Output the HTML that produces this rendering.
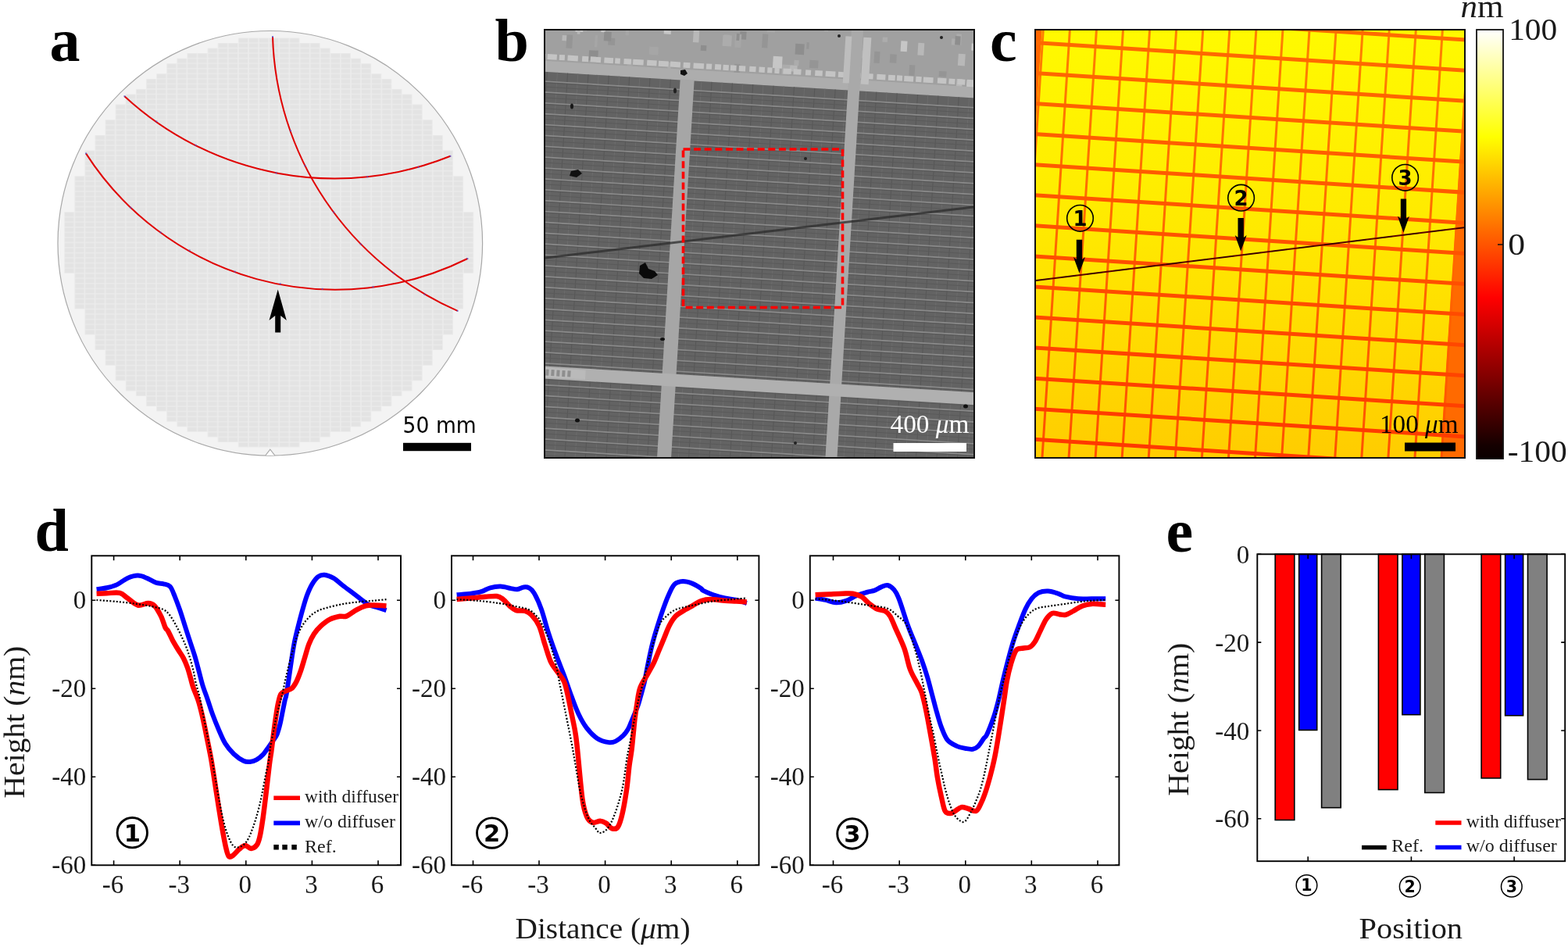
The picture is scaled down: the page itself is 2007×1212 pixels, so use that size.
<!DOCTYPE html><html><head><meta charset="utf-8"><title>Figure</title><style>html,body{margin:0;padding:0;background:#fff;width:2007px;height:1212px;overflow:hidden}svg{display:block}</style></head><body><svg width="2007" height="1212" viewBox="0 0 2007 1212"><rect width="2007" height="1212" fill="#fff"/><circle cx="345.8" cy="311.3" r="271.8" fill="#f3f3f3" stroke="#a8a8a8" stroke-width="1.2"/><path d="M339.8,582.8000000000001 L345.8,575.1 L351.8,582.8000000000001" fill="#ffffff" stroke="#a8a8a8" stroke-width="1.1"/><defs><pattern id="die" patternUnits="userSpaceOnUse" x="95.3" y="297.4" width="13.1" height="6.55"><rect width="13.1" height="6.55" fill="#ececec"/><rect x="0.8" y="0.6" width="11.5" height="5.3" fill="#e3e3e3"/></pattern></defs><path d="M304.9,48.5H383.5V55H304.9ZM278.7,55H409.7V61.6H278.7ZM265.6,61.6H422.8V68.1H265.6ZM239.4,68.1H449V74.7H239.4ZM226.3,74.7H462.1V81.2H226.3ZM213.2,81.2H475.2V87.8H213.2ZM213.2,87.8H475.2V94.3H213.2ZM200.1,94.3H488.3V100.9H200.1ZM187,100.9H501.4V107.4H187ZM187,107.4H501.4V114H187ZM173.9,114H514.5V120.5H173.9ZM160.8,120.5H527.6V127.1H160.8ZM160.8,127.1H527.6V133.7H160.8ZM147.7,133.6H540.7V140.2H147.7ZM147.7,140.2H540.7V146.8H147.7ZM147.7,146.7H540.7V153.3H147.7ZM134.6,153.3H553.8V159.8H134.6ZM134.6,159.8H553.8V166.4H134.6ZM134.6,166.4H553.8V172.9H134.6ZM121.5,172.9H566.9V179.5H121.5ZM121.5,179.5H566.9V186.1H121.5ZM121.5,186H566.9V192.6H121.5ZM108.4,192.6H580V199.1H108.4ZM108.4,199.1H580V205.7H108.4ZM108.4,205.7H580V212.2H108.4ZM108.4,212.2H580V218.8H108.4ZM108.4,218.8H580V225.3H108.4ZM95.3,225.3H593.1V231.9H95.3ZM95.3,231.9H593.1V238.4H95.3ZM95.3,238.4H593.1V245H95.3ZM95.3,245H593.1V251.5H95.3ZM95.3,251.5H593.1V258.1H95.3ZM95.3,258.1H593.1V264.6H95.3ZM95.3,264.6H593.1V271.2H95.3ZM82.2,271.2H606.2V277.8H82.2ZM82.2,277.8H606.2V284.3H82.2ZM82.2,284.3H606.2V290.8H82.2ZM82.2,290.8H606.2V297.4H82.2ZM82.2,297.4H606.2V303.9H82.2ZM82.2,303.9H606.2V310.5H82.2ZM82.2,310.5H606.2V317.1H82.2ZM82.2,317H606.2V323.6H82.2ZM82.2,323.6H606.2V330.1H82.2ZM82.2,330.1H606.2V336.7H82.2ZM82.2,336.7H606.2V343.2H82.2ZM82.2,343.2H606.2V349.8H82.2ZM95.3,349.8H593.1V356.3H95.3ZM95.3,356.3H593.1V362.9H95.3ZM95.3,362.9H593.1V369.4H95.3ZM95.3,369.4H593.1V376H95.3ZM95.3,376H593.1V382.6H95.3ZM95.3,382.5H593.1V389.1H95.3ZM95.3,389.1H593.1V395.6H95.3ZM108.4,395.6H580V402.2H108.4ZM108.4,402.2H580V408.8H108.4ZM108.4,408.8H580V415.3H108.4ZM108.4,415.3H580V421.8H108.4ZM108.4,421.8H580V428.4H108.4ZM121.5,428.4H566.9V434.9H121.5ZM121.5,434.9H566.9V441.5H121.5ZM121.5,441.5H566.9V448.1H121.5ZM134.6,448H553.8V454.6H134.6ZM134.6,454.6H553.8V461.1H134.6ZM134.6,461.1H553.8V467.7H134.6ZM147.7,467.7H540.7V474.2H147.7ZM147.7,474.2H540.7V480.8H147.7ZM147.7,480.8H540.7V487.3H147.7ZM160.8,487.3H527.6V493.9H160.8ZM160.8,493.9H527.6V500.4H160.8ZM173.9,500.4H514.5V507H173.9ZM187,507H501.4V513.5H187ZM187,513.5H501.4V520.1H187ZM200.1,520.1H488.3V526.6H200.1ZM213.2,526.6H475.2V533.2H213.2ZM213.2,533.2H475.2V539.7H213.2ZM226.3,539.8H462.1V546.3H226.3ZM239.4,546.3H449V552.8H239.4ZM265.6,552.8H422.8V559.4H265.6ZM278.7,559.4H409.7V565.9H278.7ZM304.9,566H383.5V572.5H304.9Z" fill="url(#die)"/><path d="M159.4,123.2 A396.8,396.8 0 0 0 576.5,199.8" fill="none" stroke="#e00000" stroke-width="2"/><path d="M110,196.4 A379.6,379.6 0 0 0 598.4,331" fill="none" stroke="#e00000" stroke-width="2"/><path d="M349,47 A395.4,395.4 0 0 0 585.7,397.8" fill="none" stroke="#e00000" stroke-width="2"/><rect x="158.4" y="122.2" width="2" height="2" fill="#5050d0" opacity="0.7"/><rect x="575.5" y="198.8" width="2" height="2" fill="#5050d0" opacity="0.7"/><rect x="109" y="195.4" width="2" height="2" fill="#5050d0" opacity="0.7"/><rect x="597.4" y="330" width="2" height="2" fill="#5050d0" opacity="0.7"/><rect x="348" y="46" width="2" height="2" fill="#5050d0" opacity="0.7"/><rect x="584.7" y="396.8" width="2" height="2" fill="#5050d0" opacity="0.7"/><rect x="199.3" y="154.4" width="2" height="2" fill="#5050d0" opacity="0.7"/><rect x="249.5" y="184.8" width="2" height="2" fill="#5050d0" opacity="0.7"/><rect x="352.4" y="220.4" width="2" height="2" fill="#5050d0" opacity="0.7"/><rect x="469.4" y="225.2" width="2" height="2" fill="#5050d0" opacity="0.7"/><rect x="534.6" y="213" width="2" height="2" fill="#5050d0" opacity="0.7"/><rect x="166.3" y="264.8" width="2" height="2" fill="#5050d0" opacity="0.7"/><rect x="204.6" y="296.5" width="2" height="2" fill="#5050d0" opacity="0.7"/><rect x="241.6" y="319.4" width="2" height="2" fill="#5050d0" opacity="0.7"/><rect x="299.6" y="346.6" width="2" height="2" fill="#5050d0" opacity="0.7"/><rect x="357.7" y="362.2" width="2" height="2" fill="#5050d0" opacity="0.7"/><rect x="411.6" y="368.8" width="2" height="2" fill="#5050d0" opacity="0.7"/><rect x="476.5" y="366.2" width="2" height="2" fill="#5050d0" opacity="0.7"/><rect x="370.9" y="166.3" width="2" height="2" fill="#5050d0" opacity="0.7"/><rect x="389.4" y="211.2" width="2" height="2" fill="#5050d0" opacity="0.7"/><rect x="426.3" y="270.6" width="2" height="2" fill="#5050d0" opacity="0.7"/><rect x="460.7" y="311.5" width="2" height="2" fill="#5050d0" opacity="0.7"/><rect x="502.9" y="348.5" width="2" height="2" fill="#5050d0" opacity="0.7"/><rect x="542.5" y="375.7" width="2" height="2" fill="#5050d0" opacity="0.7"/><path d="M352.2,425.5 V404 L344.5,410 L355.7,370.5 L366.8,410 L359.2,404 V425.5 Z" fill="#000"/><text x="515.6" y="553.7" font-family="'DejaVu Sans', 'Liberation Sans', sans-serif" font-size="28.5" fill="#000" textLength="94.1" lengthAdjust="spacingAndGlyphs">50 mm</text><rect x="516" y="566.8" width="87" height="10.4" fill="#000"/><defs><clipPath id="cb"><rect x="696" y="37" width="552" height="550"/></clipPath></defs><g clip-path="url(#cb)"><g transform="rotate(3.5 972 312)"><rect x="600" y="-40" width="760" height="150" fill="#a0a0a0"/><rect x="860.2" y="30.6" width="8.9" height="5" fill="#959595"/><rect x="704" y="60.8" width="11.2" height="7" fill="#b8b8b8"/><rect x="934.9" y="24.9" width="3.8" height="9.9" fill="#959595"/><rect x="724.2" y="35.6" width="8.6" height="17.3" fill="#959595"/><rect x="1038.2" y="23.5" width="5" height="11.8" fill="#acacac"/><rect x="836.9" y="30.1" width="4.1" height="8.3" fill="#a6a6a6"/><rect x="762.9" y="60.7" width="8.8" height="9.2" fill="#959595"/><rect x="1124.2" y="59.5" width="8.6" height="10.9" fill="#959595"/><rect x="930.8" y="42" width="8.3" height="10.3" fill="#8e8e8e"/><rect x="808.9" y="32.6" width="10" height="5.1" fill="#8e8e8e"/><rect x="997.1" y="81.3" width="9.6" height="8" fill="#b8b8b8"/><rect x="720.3" y="49.3" width="9.8" height="6.1" fill="#c6c6c6"/><rect x="926.8" y="87.3" width="3.7" height="11.8" fill="#8e8e8e"/><rect x="871.3" y="44.5" width="7.5" height="15.2" fill="#b8b8b8"/><rect x="1211.2" y="86.1" width="7.3" height="13.3" fill="#b8b8b8"/><rect x="1137.2" y="41.7" width="8.2" height="13.5" fill="#c6c6c6"/><rect x="833.5" y="47" width="9" height="4.3" fill="#c6c6c6"/><rect x="881.7" y="62.8" width="7.4" height="7.1" fill="#8e8e8e"/><rect x="728" y="37.3" width="6.5" height="16.2" fill="#b8b8b8"/><rect x="753.1" y="48.1" width="5.5" height="5.9" fill="#c6c6c6"/><rect x="1227.5" y="39.5" width="6.7" height="9" fill="#c6c6c6"/><rect x="1291.3" y="30.6" width="4.6" height="7.2" fill="#acacac"/><rect x="648.2" y="78.2" width="4.6" height="7.9" fill="#acacac"/><rect x="924.9" y="45.8" width="8.1" height="17.3" fill="#a6a6a6"/><rect x="1224.3" y="86.5" width="8.9" height="14.4" fill="#c6c6c6"/><rect x="1251.7" y="74.6" width="10.9" height="15.2" fill="#c6c6c6"/><rect x="910.7" y="47.6" width="7.3" height="9.6" fill="#acacac"/><rect x="685.8" y="34.6" width="4.5" height="8.8" fill="#b8b8b8"/><rect x="709.6" y="59.7" width="7.8" height="17.3" fill="#959595"/><rect x="657.3" y="81.2" width="8.5" height="6.1" fill="#8e8e8e"/><rect x="1289.7" y="62.2" width="7.3" height="5.6" fill="#c6c6c6"/><rect x="1315.3" y="52.6" width="7.4" height="5.2" fill="#b8b8b8"/><rect x="1149.8" y="71.8" width="7.3" height="13.7" fill="#959595"/><rect x="655.7" y="86.6" width="7.8" height="6.1" fill="#959595"/><rect x="1261.6" y="73.1" width="5.7" height="13" fill="#b8b8b8"/><rect x="1113.4" y="38.3" width="6.3" height="6.3" fill="#acacac"/><rect x="1002.2" y="74.5" width="6" height="7.1" fill="#acacac"/><rect x="1188.1" y="77.3" width="9.7" height="7.2" fill="#959595"/><rect x="975.1" y="71.2" width="11.9" height="15.1" fill="#c6c6c6"/><rect x="816.2" y="68.5" width="11.6" height="10.3" fill="#a6a6a6"/><rect x="1311.9" y="86.9" width="6.3" height="7.1" fill="#acacac"/><rect x="959.7" y="43.6" width="7.3" height="17.8" fill="#959595"/><rect x="1211.5" y="53.6" width="8.9" height="15.2" fill="#b8b8b8"/><rect x="1207.6" y="28.4" width="6.5" height="14" fill="#acacac"/><rect x="965.1" y="32.5" width="10.1" height="8.7" fill="#a6a6a6"/><rect x="909.2" y="48.1" width="11.5" height="14.1" fill="#acacac"/><rect x="1315.3" y="21.9" width="8.3" height="10.5" fill="#a6a6a6"/><rect x="739.4" y="77.9" width="11.8" height="13.2" fill="#8e8e8e"/><rect x="746" y="58.4" width="3.2" height="15.2" fill="#a6a6a6"/><rect x="1081.8" y="56.9" width="11.4" height="10.1" fill="#acacac"/><rect x="1201.8" y="34.8" width="5.3" height="8.1" fill="#acacac"/><rect x="1159.3" y="42.8" width="7.9" height="15.7" fill="#b8b8b8"/><rect x="1258.8" y="44.8" width="7.1" height="12.2" fill="#959595"/><rect x="926" y="84.2" width="7.5" height="11.4" fill="#959595"/><rect x="987.2" y="81.1" width="10" height="12.5" fill="#acacac"/><rect x="757.2" y="53.1" width="9.5" height="11.8" fill="#8e8e8e"/><rect x="1104" y="57.2" width="7.3" height="14.9" fill="#959595"/><rect x="678.6" y="33.4" width="3.4" height="5.4" fill="#c6c6c6"/><rect x="1022" y="73.2" width="11.2" height="10.2" fill="#959595"/><rect x="1301.9" y="62.4" width="4.8" height="7.9" fill="#959595"/><rect x="1002.6" y="53.5" width="11.5" height="13.8" fill="#8e8e8e"/><rect x="1267.5" y="82.5" width="4.8" height="10.3" fill="#c6c6c6"/><rect x="722.7" y="50.9" width="3.7" height="7.4" fill="#b8b8b8"/><rect x="784.6" y="41.2" width="4.1" height="14.9" fill="#a6a6a6"/><rect x="1077.6" y="45.6" width="5.3" height="5.9" fill="#c6c6c6"/><rect x="789.3" y="86.7" width="6.6" height="10.8" fill="#a6a6a6"/><rect x="1206.1" y="31.3" width="6.9" height="11.2" fill="#8e8e8e"/><rect x="926.5" y="45" width="3.8" height="9.1" fill="#8e8e8e"/><rect x="1016.8" y="50.8" width="3.2" height="8.6" fill="#959595"/><rect x="840.9" y="87.3" width="4" height="16.9" fill="#acacac"/><rect x="660" y="86" width="13.8" height="7" fill="#c4c4c4"/><rect x="676.2" y="86" width="8.1" height="7" fill="#c4c4c4"/><rect x="686.5" y="86" width="12.2" height="7" fill="#c4c4c4"/><rect x="701.8" y="86" width="7" height="7" fill="#c4c4c4"/><rect x="712.5" y="86" width="13.3" height="7" fill="#c4c4c4"/><rect x="731.1" y="86" width="8.1" height="7" fill="#c4c4c4"/><rect x="741.7" y="86" width="13.4" height="7" fill="#c4c4c4"/><rect x="759.4" y="86" width="11.6" height="7" fill="#c4c4c4"/><rect x="773.3" y="86" width="6.5" height="7" fill="#c4c4c4"/><rect x="784.6" y="86" width="9.4" height="7" fill="#c4c4c4"/><rect x="796.3" y="86" width="13.5" height="7" fill="#c4c4c4"/><rect x="814.3" y="86" width="12.4" height="7" fill="#c4c4c4"/><rect x="829" y="86" width="12.8" height="7" fill="#c4c4c4"/><rect x="844.2" y="86" width="12.9" height="7" fill="#c4c4c4"/><rect x="860.9" y="86" width="8.7" height="7" fill="#c4c4c4"/><rect x="873.8" y="86" width="13.4" height="7" fill="#c4c4c4"/><rect x="890.3" y="86" width="7" height="7" fill="#c4c4c4"/><rect x="901.4" y="86" width="7.9" height="7" fill="#c4c4c4"/><rect x="911.8" y="86" width="7.3" height="7" fill="#c4c4c4"/><rect x="921.3" y="86" width="7.6" height="7" fill="#c4c4c4"/><rect x="932.1" y="86" width="8.4" height="7" fill="#c4c4c4"/><rect x="945.6" y="86" width="8.3" height="7" fill="#c4c4c4"/><rect x="957.9" y="86" width="7.4" height="7" fill="#c4c4c4"/><rect x="968.7" y="86" width="6.1" height="7" fill="#c4c4c4"/><rect x="977.9" y="86" width="6.1" height="7" fill="#c4c4c4"/><rect x="988.9" y="86" width="10.4" height="7" fill="#c4c4c4"/><rect x="1002.1" y="86" width="9.8" height="7" fill="#c4c4c4"/><rect x="1017.6" y="86" width="6.9" height="7" fill="#c4c4c4"/><rect x="1029.8" y="86" width="9.5" height="7" fill="#c4c4c4"/><rect x="1043.2" y="86" width="12.7" height="7" fill="#c4c4c4"/><rect x="1059.5" y="86" width="10.1" height="7" fill="#c4c4c4"/><rect x="1074.3" y="86" width="13.9" height="7" fill="#c4c4c4"/><rect x="1091.5" y="86" width="12.7" height="7" fill="#c4c4c4"/><rect x="1109" y="86" width="11.1" height="7" fill="#c4c4c4"/><rect x="1123.7" y="86" width="8.8" height="7" fill="#c4c4c4"/><rect x="1134.7" y="86" width="7" height="7" fill="#c4c4c4"/><rect x="1144" y="86" width="11.9" height="7" fill="#c4c4c4"/><rect x="1159" y="86" width="7.3" height="7" fill="#c4c4c4"/><rect x="1168.6" y="86" width="12.7" height="7" fill="#c4c4c4"/><rect x="1186.8" y="86" width="11.4" height="7" fill="#c4c4c4"/><rect x="1201.3" y="86" width="7.9" height="7" fill="#c4c4c4"/><rect x="1212.4" y="86" width="9.7" height="7" fill="#c4c4c4"/><rect x="1224.7" y="86" width="9.6" height="7" fill="#c4c4c4"/><rect x="1237.3" y="86" width="13.7" height="7" fill="#c4c4c4"/><rect x="1256.9" y="86" width="10.4" height="7" fill="#c4c4c4"/><rect x="1270.3" y="86" width="13.7" height="7" fill="#c4c4c4"/><rect x="1287.2" y="86" width="8.9" height="7" fill="#c4c4c4"/><rect x="1298.1" y="86" width="9.1" height="7" fill="#c4c4c4"/><rect x="600" y="95" width="760" height="14" fill="#adadad"/><rect x="600" y="109" width="760" height="560" fill="#636363"/><rect x="436" y="109" width="1" height="560" fill="#6c6c6c"/><rect x="449.2" y="109" width="1" height="560" fill="#575757"/><rect x="462.4" y="109" width="1" height="560" fill="#6c6c6c"/><rect x="475.6" y="109" width="1" height="560" fill="#575757"/><rect x="488.8" y="109" width="1" height="560" fill="#6c6c6c"/><rect x="502" y="109" width="1" height="560" fill="#575757"/><rect x="515.2" y="109" width="1" height="560" fill="#6c6c6c"/><rect x="528.4" y="109" width="1" height="560" fill="#575757"/><rect x="541.6" y="109" width="1" height="560" fill="#6c6c6c"/><rect x="554.8" y="109" width="1" height="560" fill="#575757"/><rect x="568" y="109" width="1" height="560" fill="#6c6c6c"/><rect x="581.2" y="109" width="1" height="560" fill="#575757"/><rect x="594.4" y="109" width="1" height="560" fill="#6c6c6c"/><rect x="607.6" y="109" width="1" height="560" fill="#575757"/><rect x="620.8" y="109" width="1" height="560" fill="#6c6c6c"/><rect x="634" y="109" width="1" height="560" fill="#575757"/><rect x="647.2" y="109" width="1" height="560" fill="#6c6c6c"/><rect x="660.4" y="109" width="1" height="560" fill="#575757"/><rect x="673.6" y="109" width="1" height="560" fill="#6c6c6c"/><rect x="686.8" y="109" width="1" height="560" fill="#575757"/><rect x="700" y="109" width="1" height="560" fill="#6c6c6c"/><rect x="713.2" y="109" width="1" height="560" fill="#575757"/><rect x="726.4" y="109" width="1" height="560" fill="#6c6c6c"/><rect x="739.6" y="109" width="1" height="560" fill="#575757"/><rect x="752.8" y="109" width="1" height="560" fill="#6c6c6c"/><rect x="766" y="109" width="1" height="560" fill="#575757"/><rect x="779.2" y="109" width="1" height="560" fill="#6c6c6c"/><rect x="792.4" y="109" width="1" height="560" fill="#575757"/><rect x="805.6" y="109" width="1" height="560" fill="#6c6c6c"/><rect x="818.8" y="109" width="1" height="560" fill="#575757"/><rect x="832" y="109" width="1" height="560" fill="#6c6c6c"/><rect x="845.2" y="109" width="1" height="560" fill="#575757"/><rect x="858.4" y="109" width="1" height="560" fill="#6c6c6c"/><rect x="871.6" y="109" width="1" height="560" fill="#575757"/><rect x="884.8" y="109" width="1" height="560" fill="#6c6c6c"/><rect x="898" y="109" width="1" height="560" fill="#575757"/><rect x="911.2" y="109" width="1" height="560" fill="#6c6c6c"/><rect x="924.4" y="109" width="1" height="560" fill="#575757"/><rect x="937.6" y="109" width="1" height="560" fill="#6c6c6c"/><rect x="950.8" y="109" width="1" height="560" fill="#575757"/><rect x="964" y="109" width="1" height="560" fill="#6c6c6c"/><rect x="977.2" y="109" width="1" height="560" fill="#575757"/><rect x="990.4" y="109" width="1" height="560" fill="#6c6c6c"/><rect x="1003.6" y="109" width="1" height="560" fill="#575757"/><rect x="1016.8" y="109" width="1" height="560" fill="#6c6c6c"/><rect x="1030" y="109" width="1" height="560" fill="#575757"/><rect x="1043.2" y="109" width="1" height="560" fill="#6c6c6c"/><rect x="1056.4" y="109" width="1" height="560" fill="#575757"/><rect x="1069.6" y="109" width="1" height="560" fill="#6c6c6c"/><rect x="1082.8" y="109" width="1" height="560" fill="#575757"/><rect x="1096" y="109" width="1" height="560" fill="#6c6c6c"/><rect x="1109.2" y="109" width="1" height="560" fill="#575757"/><rect x="1122.4" y="109" width="1" height="560" fill="#6c6c6c"/><rect x="1135.6" y="109" width="1" height="560" fill="#575757"/><rect x="1148.8" y="109" width="1" height="560" fill="#6c6c6c"/><rect x="1162" y="109" width="1" height="560" fill="#575757"/><rect x="1175.2" y="109" width="1" height="560" fill="#6c6c6c"/><rect x="1188.4" y="109" width="1" height="560" fill="#575757"/><rect x="1201.6" y="109" width="1" height="560" fill="#6c6c6c"/><rect x="1214.8" y="109" width="1" height="560" fill="#575757"/><rect x="1228" y="109" width="1" height="560" fill="#6c6c6c"/><rect x="1241.2" y="109" width="1" height="560" fill="#575757"/><rect x="1254.4" y="109" width="1" height="560" fill="#6c6c6c"/><rect x="1267.6" y="109" width="1" height="560" fill="#575757"/><rect x="1280.8" y="109" width="1" height="560" fill="#6c6c6c"/><rect x="1294" y="109" width="1" height="560" fill="#575757"/><rect x="1307.2" y="109" width="1" height="560" fill="#6c6c6c"/><rect x="1320.4" y="109" width="1" height="560" fill="#575757"/><rect x="1333.6" y="109" width="1" height="560" fill="#6c6c6c"/><rect x="1346.8" y="109" width="1" height="560" fill="#575757"/><rect x="1360" y="109" width="1" height="560" fill="#6c6c6c"/><rect x="1373.2" y="109" width="1" height="560" fill="#575757"/><rect x="1386.4" y="109" width="1" height="560" fill="#6c6c6c"/><rect x="1399.6" y="109" width="1" height="560" fill="#575757"/><rect x="1412.8" y="109" width="1" height="560" fill="#6c6c6c"/><rect x="1426" y="109" width="1" height="560" fill="#575757"/><rect x="1439.2" y="109" width="1" height="560" fill="#6c6c6c"/><rect x="1452.4" y="109" width="1" height="560" fill="#575757"/><rect x="1465.6" y="109" width="1" height="560" fill="#6c6c6c"/><rect x="1478.8" y="109" width="1" height="560" fill="#575757"/><rect x="600" y="120.4" width="760" height="1.7" fill="#8a8a8a"/><rect x="600" y="122.4" width="760" height="1" fill="#585858"/><rect x="600" y="127.7" width="760" height="1" fill="#5a5a5a"/><rect x="600" y="134.2" width="760" height="1.7" fill="#8a8a8a"/><rect x="600" y="136.2" width="760" height="1" fill="#585858"/><rect x="600" y="141.6" width="760" height="1" fill="#5a5a5a"/><rect x="600" y="148.1" width="760" height="1.7" fill="#8a8a8a"/><rect x="600" y="150.1" width="760" height="1" fill="#585858"/><rect x="600" y="155.4" width="760" height="1" fill="#5a5a5a"/><rect x="600" y="161.9" width="760" height="1.7" fill="#8a8a8a"/><rect x="600" y="163.9" width="760" height="1" fill="#585858"/><rect x="600" y="169.2" width="760" height="1" fill="#5a5a5a"/><rect x="600" y="175.8" width="760" height="1.7" fill="#8a8a8a"/><rect x="600" y="177.8" width="760" height="1" fill="#585858"/><rect x="600" y="183.1" width="760" height="1" fill="#5a5a5a"/><rect x="600" y="189.6" width="760" height="1.7" fill="#8a8a8a"/><rect x="600" y="191.6" width="760" height="1" fill="#585858"/><rect x="600" y="196.9" width="760" height="1" fill="#5a5a5a"/><rect x="600" y="203.5" width="760" height="1.7" fill="#8a8a8a"/><rect x="600" y="205.5" width="760" height="1" fill="#585858"/><rect x="600" y="210.8" width="760" height="1" fill="#5a5a5a"/><rect x="600" y="217.3" width="760" height="1.7" fill="#8a8a8a"/><rect x="600" y="219.3" width="760" height="1" fill="#585858"/><rect x="600" y="224.6" width="760" height="1" fill="#5a5a5a"/><rect x="600" y="231.2" width="760" height="1.7" fill="#8a8a8a"/><rect x="600" y="233.2" width="760" height="1" fill="#585858"/><rect x="600" y="238.5" width="760" height="1" fill="#5a5a5a"/><rect x="600" y="245" width="760" height="1.7" fill="#8a8a8a"/><rect x="600" y="247" width="760" height="1" fill="#585858"/><rect x="600" y="252.3" width="760" height="1" fill="#5a5a5a"/><rect x="600" y="258.9" width="760" height="1.7" fill="#8a8a8a"/><rect x="600" y="260.9" width="760" height="1" fill="#585858"/><rect x="600" y="266.2" width="760" height="1" fill="#5a5a5a"/><rect x="600" y="272.8" width="760" height="1.7" fill="#8a8a8a"/><rect x="600" y="274.8" width="760" height="1" fill="#585858"/><rect x="600" y="280.1" width="760" height="1" fill="#5a5a5a"/><rect x="600" y="286.6" width="760" height="1.7" fill="#8a8a8a"/><rect x="600" y="288.6" width="760" height="1" fill="#585858"/><rect x="600" y="293.9" width="760" height="1" fill="#5a5a5a"/><rect x="600" y="300.5" width="760" height="1.7" fill="#8a8a8a"/><rect x="600" y="302.5" width="760" height="1" fill="#585858"/><rect x="600" y="307.8" width="760" height="1" fill="#5a5a5a"/><rect x="600" y="314.3" width="760" height="1.7" fill="#8a8a8a"/><rect x="600" y="316.3" width="760" height="1" fill="#585858"/><rect x="600" y="321.6" width="760" height="1" fill="#5a5a5a"/><rect x="600" y="328.2" width="760" height="1.7" fill="#8a8a8a"/><rect x="600" y="330.2" width="760" height="1" fill="#585858"/><rect x="600" y="335.5" width="760" height="1" fill="#5a5a5a"/><rect x="600" y="342" width="760" height="1.7" fill="#8a8a8a"/><rect x="600" y="344" width="760" height="1" fill="#585858"/><rect x="600" y="349.3" width="760" height="1" fill="#5a5a5a"/><rect x="600" y="355.9" width="760" height="1.7" fill="#8a8a8a"/><rect x="600" y="357.9" width="760" height="1" fill="#585858"/><rect x="600" y="363.2" width="760" height="1" fill="#5a5a5a"/><rect x="600" y="369.7" width="760" height="1.7" fill="#8a8a8a"/><rect x="600" y="371.7" width="760" height="1" fill="#585858"/><rect x="600" y="377" width="760" height="1" fill="#5a5a5a"/><rect x="600" y="383.6" width="760" height="1.7" fill="#8a8a8a"/><rect x="600" y="385.6" width="760" height="1" fill="#585858"/><rect x="600" y="390.9" width="760" height="1" fill="#5a5a5a"/><rect x="600" y="397.4" width="760" height="1.7" fill="#8a8a8a"/><rect x="600" y="399.4" width="760" height="1" fill="#585858"/><rect x="600" y="404.7" width="760" height="1" fill="#5a5a5a"/><rect x="600" y="411.3" width="760" height="1.7" fill="#8a8a8a"/><rect x="600" y="413.3" width="760" height="1" fill="#585858"/><rect x="600" y="418.6" width="760" height="1" fill="#5a5a5a"/><rect x="600" y="425.1" width="760" height="1.7" fill="#8a8a8a"/><rect x="600" y="427.1" width="760" height="1" fill="#585858"/><rect x="600" y="432.4" width="760" height="1" fill="#5a5a5a"/><rect x="600" y="439" width="760" height="1.7" fill="#8a8a8a"/><rect x="600" y="441" width="760" height="1" fill="#585858"/><rect x="600" y="446.3" width="760" height="1" fill="#5a5a5a"/><rect x="600" y="452.8" width="760" height="1.7" fill="#8a8a8a"/><rect x="600" y="454.8" width="760" height="1" fill="#585858"/><rect x="600" y="460.1" width="760" height="1" fill="#5a5a5a"/><rect x="600" y="466.7" width="760" height="1.7" fill="#8a8a8a"/><rect x="600" y="468.7" width="760" height="1" fill="#585858"/><rect x="600" y="474" width="760" height="1" fill="#5a5a5a"/><rect x="600" y="480.5" width="760" height="1.7" fill="#8a8a8a"/><rect x="600" y="482.5" width="760" height="1" fill="#585858"/><rect x="600" y="487.8" width="760" height="1" fill="#5a5a5a"/><rect x="600" y="494.4" width="760" height="1.7" fill="#8a8a8a"/><rect x="600" y="496.4" width="760" height="1" fill="#585858"/><rect x="600" y="501.7" width="760" height="1" fill="#5a5a5a"/><rect x="600" y="508.2" width="760" height="1.7" fill="#8a8a8a"/><rect x="600" y="510.2" width="760" height="1" fill="#585858"/><rect x="600" y="515.5" width="760" height="1" fill="#5a5a5a"/><rect x="600" y="522.1" width="760" height="1.7" fill="#8a8a8a"/><rect x="600" y="524.1" width="760" height="1" fill="#585858"/><rect x="600" y="529.4" width="760" height="1" fill="#5a5a5a"/><rect x="600" y="535.9" width="760" height="1.7" fill="#8a8a8a"/><rect x="600" y="537.9" width="760" height="1" fill="#585858"/><rect x="600" y="543.2" width="760" height="1" fill="#5a5a5a"/><rect x="600" y="549.8" width="760" height="1.7" fill="#8a8a8a"/><rect x="600" y="551.8" width="760" height="1" fill="#585858"/><rect x="600" y="557.1" width="760" height="1" fill="#5a5a5a"/><rect x="600" y="563.6" width="760" height="1.7" fill="#8a8a8a"/><rect x="600" y="565.6" width="760" height="1" fill="#585858"/><rect x="600" y="570.9" width="760" height="1" fill="#5a5a5a"/><rect x="600" y="577.5" width="760" height="1.7" fill="#8a8a8a"/><rect x="600" y="579.5" width="760" height="1" fill="#585858"/><rect x="600" y="584.8" width="760" height="1" fill="#5a5a5a"/><rect x="600" y="591.3" width="760" height="1.7" fill="#8a8a8a"/><rect x="600" y="593.3" width="760" height="1" fill="#585858"/><rect x="600" y="598.6" width="760" height="1" fill="#5a5a5a"/><rect x="600" y="605.2" width="760" height="1.7" fill="#8a8a8a"/><rect x="600" y="607.2" width="760" height="1" fill="#585858"/><rect x="600" y="612.5" width="760" height="1" fill="#5a5a5a"/><rect x="600" y="619" width="760" height="1.7" fill="#8a8a8a"/><rect x="600" y="621" width="760" height="1" fill="#585858"/><rect x="600" y="626.3" width="760" height="1" fill="#5a5a5a"/><rect x="600" y="632.9" width="760" height="1.7" fill="#8a8a8a"/><rect x="600" y="634.9" width="760" height="1" fill="#585858"/><rect x="600" y="640.2" width="760" height="1" fill="#5a5a5a"/><rect x="600" y="646.7" width="760" height="1.7" fill="#8a8a8a"/><rect x="600" y="648.7" width="760" height="1" fill="#585858"/><rect x="600" y="654" width="760" height="1" fill="#5a5a5a"/><rect x="600" y="660.6" width="760" height="1.7" fill="#8a8a8a"/><rect x="600" y="662.6" width="760" height="1" fill="#585858"/><rect x="600" y="667.9" width="760" height="1" fill="#5a5a5a"/><rect x="600" y="674.4" width="760" height="1.7" fill="#8a8a8a"/><rect x="600" y="676.4" width="760" height="1" fill="#585858"/><rect x="600" y="681.7" width="760" height="1" fill="#5a5a5a"/><rect x="858" y="108" width="18" height="600" fill="#a6a6a6"/><rect x="1073" y="30" width="15" height="660" fill="#a9a9a9"/><rect x="1066" y="40" width="8" height="60" fill="#bdbdbd"/><rect x="1089" y="40" width="10" height="60" fill="#c0c0c0"/><rect x="600" y="485" width="760" height="16" fill="#b0b0b0"/><rect x="680" y="487" width="80" height="12" fill="#bababa"/><rect x="702" y="489" width="4" height="8" fill="#8e8e8e"/><rect x="709" y="489" width="4" height="8" fill="#8e8e8e"/><rect x="716" y="489" width="4" height="8" fill="#8e8e8e"/><rect x="723" y="489" width="4" height="8" fill="#8e8e8e"/><rect x="730" y="489" width="4" height="8" fill="#8e8e8e"/><rect x="737" y="489" width="4" height="8" fill="#8e8e8e"/></g><path d="M696,330.3 L1248,264.8" stroke="#2b2b2b" stroke-width="3" opacity="0.75" fill="none"/><path d="M819,340 L826,336 L830,344 L838,347 L842,352 L834,357 L824,356 L818,350Z" fill="#0a0a0a"/><path d="M731,219 L740,217 L745,222 L738,227 L729,225Z" fill="#111"/><path d="M871,90 L877,89 L880,94 L876,97 L871,95Z" fill="#111"/><ellipse cx="864" cy="116" rx="2" ry="3.5" fill="#222"/><ellipse cx="848" cy="434" rx="3" ry="2" fill="#111"/><ellipse cx="739" cy="538" rx="3" ry="2.5" fill="#111"/><ellipse cx="1236" cy="520" rx="3" ry="2.5" fill="#111"/><ellipse cx="1031" cy="203" rx="2" ry="2" fill="#222"/><ellipse cx="1205" cy="48" rx="2" ry="2" fill="#222"/><ellipse cx="1074" cy="46" rx="2" ry="2" fill="#222"/><ellipse cx="732" cy="136" rx="2" ry="3.5" fill="#181818"/><ellipse cx="1018" cy="567" rx="2" ry="2" fill="#222"/></g><rect x="874.5" y="191" width="204" height="202.5" fill="none" stroke="#ff0000" stroke-width="3.6" stroke-dasharray="9 4.6"/><rect x="1143.5" y="567" width="93.5" height="11" fill="#fff"/><text x="1139.5" y="554" font-family="'Liberation Serif', 'Times New Roman', serif" font-size="33.5" fill="#fff" textLength="101" lengthAdjust="spacingAndGlyphs">400 <tspan font-style="italic">μ</tspan>m</text><rect x="697" y="38" width="550" height="548" fill="none" stroke="#111" stroke-width="2"/><defs><clipPath id="cc"><rect x="1324" y="37" width="552" height="550"/></clipPath><linearGradient id="yel" x1="0" y1="0" x2="0" y2="1"><stop offset="0" stop-color="#fffa00"/><stop offset="0.45" stop-color="#ffea00"/><stop offset="1" stop-color="#ffcc00"/></linearGradient><linearGradient id="orgv" gradientUnits="userSpaceOnUse" x1="0" y1="37" x2="0" y2="587"><stop offset="0" stop-color="#ff8000"/><stop offset="1" stop-color="#ff5000"/></linearGradient><linearGradient id="orgh" gradientUnits="userSpaceOnUse" x1="0" y1="37" x2="0" y2="587"><stop offset="0" stop-color="#ff6c00"/><stop offset="1" stop-color="#ff3800"/></linearGradient><linearGradient id="hot" x1="0" y1="1" x2="0" y2="0"><stop offset="0.0000" stop-color="#0a0000"/><stop offset="0.0312" stop-color="#150000"/><stop offset="0.0625" stop-color="#2b0000"/><stop offset="0.0938" stop-color="#400000"/><stop offset="0.1250" stop-color="#550000"/><stop offset="0.1562" stop-color="#6a0000"/><stop offset="0.1875" stop-color="#800000"/><stop offset="0.2188" stop-color="#950000"/><stop offset="0.2500" stop-color="#aa0000"/><stop offset="0.2812" stop-color="#bf0000"/><stop offset="0.3125" stop-color="#d50000"/><stop offset="0.3438" stop-color="#ea0000"/><stop offset="0.3750" stop-color="#ff0000"/><stop offset="0.4062" stop-color="#ff1500"/><stop offset="0.4375" stop-color="#ff2b00"/><stop offset="0.4688" stop-color="#ff4000"/><stop offset="0.5000" stop-color="#ff5500"/><stop offset="0.5312" stop-color="#ff6a00"/><stop offset="0.5625" stop-color="#ff8000"/><stop offset="0.5938" stop-color="#ff9500"/><stop offset="0.6250" stop-color="#ffaa00"/><stop offset="0.6562" stop-color="#ffbf00"/><stop offset="0.6875" stop-color="#ffd500"/><stop offset="0.7188" stop-color="#ffea00"/><stop offset="0.7500" stop-color="#ffff00"/><stop offset="0.7812" stop-color="#ffff20"/><stop offset="0.8125" stop-color="#ffff40"/><stop offset="0.8438" stop-color="#ffff60"/><stop offset="0.8750" stop-color="#ffff80"/><stop offset="0.9062" stop-color="#ffff9f"/><stop offset="0.9375" stop-color="#ffffbf"/><stop offset="0.9688" stop-color="#ffffdf"/><stop offset="1.0000" stop-color="#ffffff"/></linearGradient></defs><rect x="1324" y="37" width="552" height="550" fill="url(#yel)"/><g clip-path="url(#cc)"><g transform="rotate(3.7 1600 312)"><rect x="1250" y="-50" width="66.5" height="720" fill="#ff6600"/><rect x="1861" y="-50" width="90" height="720" fill="#ff6a00"/><path d="M1318.2,-60V680M1352.2,-60V680M1386.2,-60V680M1420.2,-60V680M1454.2,-60V680M1488.2,-60V680M1522.2,-60V680M1556.2,-60V680M1590.2,-60V680M1624.2,-60V680M1658.2,-60V680M1692.2,-60V680M1726.2,-60V680M1760.2,-60V680M1794.2,-60V680M1828.2,-60V680M1862.2,-60V680" stroke="url(#orgv)" stroke-width="3" fill="none"/><path d="M1250,-5.2H1950M1250,33.8H1950M1250,72.8H1950M1250,111.8H1950M1250,150.8H1950M1250,189.7H1950M1250,228.7H1950M1250,267.7H1950M1250,306.7H1950M1250,345.7H1950M1250,384.6H1950M1250,423.6H1950M1250,462.6H1950M1250,501.6H1950M1250,540.6H1950M1250,579.5H1950M1250,618.5H1950M1250,657.5H1950" stroke="url(#orgh)" stroke-width="5" fill="none"/></g><path d="M1324,359.2 L1876,291" stroke="#5a0000" stroke-width="2" fill="none"/><path d="M1324,359.2 L1876,291" stroke="#000" stroke-width="1" stroke-dasharray="20 14" fill="none" opacity="0.6"/></g><circle cx="1382.5" cy="279.3" r="16.8" fill="none" stroke="#000" stroke-width="1.6"/><text x="1382.5" y="288.6" text-anchor="middle" font-family="'DejaVu Sans', 'Liberation Sans', sans-serif" font-weight="700" font-size="26" fill="#000">1</text><path d="M1377.8,306.8 V332 L1374,329 L1381.5,349.5 L1389,329 L1385.2,332 V306.8 Z" fill="#000"/><circle cx="1588.6" cy="253.2" r="16.8" fill="none" stroke="#000" stroke-width="1.6"/><text x="1588.6" y="262.5" text-anchor="middle" font-family="'DejaVu Sans', 'Liberation Sans', sans-serif" font-weight="700" font-size="26" fill="#000">2</text><path d="M1584.5,279 V303.9 L1580.7,300.9 L1588.2,321.4 L1595.7,300.9 L1591.9,303.9 V279 Z" fill="#000"/><circle cx="1798.6" cy="227.3" r="16.8" fill="none" stroke="#000" stroke-width="1.6"/><text x="1798.6" y="236.6" text-anchor="middle" font-family="'DejaVu Sans', 'Liberation Sans', sans-serif" font-weight="700" font-size="26" fill="#000">3</text><path d="M1792.8,254.5 V279.8 L1788.9,276.8 L1796.4,297.7 L1803.9,276.8 L1800.1,279.8 V254.5 Z" fill="#000"/><text x="1766" y="553.5" font-family="'Liberation Serif', 'Times New Roman', serif" font-size="33.5" fill="#000" textLength="100.5" lengthAdjust="spacingAndGlyphs">100 <tspan font-style="italic">μ</tspan>m</text><rect x="1798" y="566.5" width="65" height="11" fill="#000"/><rect x="1325" y="38" width="550" height="548" fill="none" stroke="#111" stroke-width="2"/><rect x="1890" y="38" width="34" height="549" fill="url(#hot)" stroke="#111" stroke-width="1.8"/><path d="M1917,313H1924" stroke="#111" stroke-width="1.5"/><text x="1931.2" y="51" font-family="'Liberation Serif', 'Times New Roman', serif" font-size="40" fill="#1a1a1a" textLength="62" lengthAdjust="spacingAndGlyphs">100</text><text x="1930.3" y="326.3" font-family="'Liberation Serif', 'Times New Roman', serif" font-size="40" fill="#1a1a1a" textLength="21.8" lengthAdjust="spacingAndGlyphs">0</text><text x="1929.8" y="590.5" font-family="'Liberation Serif', 'Times New Roman', serif" font-size="40" fill="#1a1a1a" textLength="76" lengthAdjust="spacingAndGlyphs">-100</text><text x="1869.5" y="21.8" font-family="'Liberation Serif', 'Times New Roman', serif" font-size="40" fill="#1a1a1a" textLength="55" lengthAdjust="spacingAndGlyphs"><tspan font-style="italic">n</tspan>m</text><rect x="117.3" y="711.3" width="395.7" height="396" fill="none" stroke="#000" stroke-width="1.9"/><path d="M145.6,711.3v6M145.6,1107.3v-6M230.2,711.3v6M230.2,1107.3v-6M314.8,711.3v6M314.8,1107.3v-6M399.4,711.3v6M399.4,1107.3v-6M484,711.3v6M484,1107.3v-6M117.3,768.3h5M513,768.3h-5M117.3,881.3h5M513,881.3h-5M117.3,994.3h5M513,994.3h-5M117.3,1107.3h5M513,1107.3h-5" stroke="#000" stroke-width="1.6" fill="none"/><text x="144.6" y="1142.6" text-anchor="middle" font-family="'Liberation Serif', 'Times New Roman', serif" font-size="33" fill="#1a1a1a">-6</text><text x="229.2" y="1142.6" text-anchor="middle" font-family="'Liberation Serif', 'Times New Roman', serif" font-size="33" fill="#1a1a1a">-3</text><text x="313.8" y="1142.6" text-anchor="middle" font-family="'Liberation Serif', 'Times New Roman', serif" font-size="33" fill="#1a1a1a">0</text><text x="398.4" y="1142.6" text-anchor="middle" font-family="'Liberation Serif', 'Times New Roman', serif" font-size="33" fill="#1a1a1a">3</text><text x="483" y="1142.6" text-anchor="middle" font-family="'Liberation Serif', 'Times New Roman', serif" font-size="33" fill="#1a1a1a">6</text><text x="110.3" y="778.7" text-anchor="end" font-family="'Liberation Serif', 'Times New Roman', serif" font-size="33" fill="#1a1a1a">0</text><text x="110.3" y="891.7" text-anchor="end" font-family="'Liberation Serif', 'Times New Roman', serif" font-size="33" fill="#1a1a1a">-20</text><text x="110.3" y="1004.7" text-anchor="end" font-family="'Liberation Serif', 'Times New Roman', serif" font-size="33" fill="#1a1a1a">-40</text><text x="110.3" y="1117.7" text-anchor="end" font-family="'Liberation Serif', 'Times New Roman', serif" font-size="33" fill="#1a1a1a">-60</text><path d="M123.6,754.2 C125.8,753.9 132.4,753.3 136.8,752.3 C141.2,751.3 145.6,750.2 150,748.1 C154.4,746 158.8,741.8 163.2,739.9 C167.6,738 172.3,736.6 176.4,736.6 C180.5,736.6 184.2,738.4 188,739.9 C191.8,741.4 195.9,744.5 199.5,745.7 C203.1,746.9 206.4,746.5 209.4,747.3 C212.4,748.1 215.5,748.5 217.7,750.6 C219.9,752.7 220.4,755.1 222.4,760 C224.4,764.9 227.6,773.2 229.9,779.8 C232.2,786.4 234.2,793 236.3,799.6 C238.4,806.2 240.5,812.8 242.7,819.4 C244.8,826 247.2,832.6 249.2,839.2 C251.2,845.8 252.9,852.7 254.6,859 C256.3,865.3 257.5,871 259.4,877.1 C261.3,883.2 263.8,889.5 265.9,895.7 C268,901.9 269.8,908.1 272.1,914.3 C274.4,920.5 276.8,926.6 279.5,932.8 C282.2,939 284.9,946 288.2,951.4 C291.5,956.8 295.4,961.3 299.3,965 C303.2,968.7 308.2,972.1 311.7,973.7 C315.1,975.4 317.2,975.1 320,974.9 C322.8,974.7 325.6,973.9 328.3,972.4 C331.1,970.9 333.9,968.5 336.5,965.8 C339.1,963 341.7,958.9 343.9,955.9 C346.1,952.9 347.9,950.4 349.7,947.7 C351.5,945 353.2,943.2 354.7,939.5 C356.2,935.8 357.6,930.5 358.8,925.4 C360,920.3 361.1,913.7 362.1,908.9 C363.1,904.1 363.8,900.2 364.6,896.5 C365.4,892.8 365.6,895.1 367,886.6 C368.4,878.1 371.4,856.3 373,845.5 C374.6,834.7 375.4,829.5 376.9,821.8 C378.4,814.1 380.4,806.4 382.2,799.4 C384,792.4 385.7,785.8 387.5,779.6 C389.3,773.4 390.8,767.7 392.8,762.4 C394.8,757.1 397,751.9 399.4,747.9 C401.8,743.9 404.5,740.2 407.1,738.2 C409.8,736.2 412,735.5 415.3,735.8 C418.6,736.1 423,737.7 426.9,739.9 C430.8,742.1 434.3,745.8 438.4,749 C442.5,752.2 447.5,755.8 451.6,758.9 C455.7,762 459.9,765.4 463.2,767.9 C466.5,770.4 468.4,772.2 471.4,773.7 C474.4,775.2 477.4,775.8 481.3,777 C485.2,778.2 492.3,780.4 494.5,781.1" fill="none" stroke="#0000ff" stroke-width="6" stroke-linejoin="round"/><path d="M123.6,759.7 C125.8,759.6 131.9,759.3 136.8,759.2 C141.8,759.1 148.9,757.9 153.3,758.9 C157.7,759.9 159.3,762.9 163.2,765.5 C167,768.1 172,773.4 176.4,774.5 C180.8,775.6 186,771.9 189.6,772 C193.2,772.1 195.2,772.6 197.9,775.4 C200.7,778.2 203.8,784 206.1,788.6 C208.4,793.2 210,799.9 211.5,803 C213,806.1 213.4,804.8 215,807.5 C216.6,810.2 218.8,815.4 220.9,819.4 C223.1,823.4 225.6,827.5 227.9,831.3 C230.2,835.1 232.8,838.4 234.8,842.2 C236.8,846 238.3,849.9 239.8,854 C241.3,858.1 242.5,862.6 243.7,866.9 C244.9,871.1 245.6,874.7 247.2,879.5 C248.8,884.3 251.6,889.9 253.5,895.7 C255.4,901.5 256.7,906.5 258.5,914.3 C260.3,922.1 262.6,933.1 264.5,942.6 C266.4,952.1 268.4,961.3 270.2,971.1 C271.9,980.9 273.4,991.3 275,1001.4 C276.6,1011.5 278.1,1022 279.7,1031.8 C281.3,1041.6 282.8,1051.4 284.4,1060.3 C286,1069.2 287.8,1079 289.2,1085 C290.6,1091 291.4,1094.7 293,1096.3 C294.6,1097.9 296.5,1096 298.7,1094.4 C300.9,1092.8 303.8,1088.8 306.3,1086.8 C308.8,1084.8 311.4,1082.2 313.9,1082.1 C316.4,1081.9 318.9,1086.1 321.4,1085.9 C323.9,1085.7 327.1,1083.8 329,1081.1 C330.9,1078.4 331.5,1075.5 332.8,1069.8 C334.1,1064.1 335.3,1055.9 336.6,1047 C337.9,1038.1 339,1027.9 340.4,1016.6 C341.8,1005.3 343.7,988 344.8,979 C345.9,970 346.4,968 347.2,962.5 C347.9,957 348.6,951.5 349.3,946 C350,940.5 350.6,935 351.4,929.5 C352.1,924 353,918 353.8,912.9 C354.6,907.8 355.3,903.1 356.3,899 C357.3,894.9 358,890.8 359.6,888.3 C361.2,885.8 363.9,885.4 366.2,884.1 C368.5,882.9 371.4,882.8 373.6,880.8 C375.8,878.8 377.7,875.6 379.6,871.9 C381.5,868.2 383.1,863.8 384.9,858.7 C386.6,853.7 388.4,847.3 390.1,841.6 C391.9,835.9 393.4,829.5 395.4,824.4 C397.4,819.3 399.4,815.2 402,811.2 C404.6,807.2 407.9,803.8 411.2,800.7 C414.5,797.6 417.8,794.8 421.8,792.8 C425.8,790.8 431.4,789.5 435,788.8 C438.6,788.1 439.8,790 443.4,788.6 C447,787.2 452.5,782.5 456.6,780.3 C460.7,778.1 464.5,776.4 468.1,775.4 C471.7,774.4 473.6,774.5 478,774.5 C482.4,774.5 491.8,775.2 494.5,775.4" fill="none" stroke="#ff0000" stroke-width="6.5" stroke-linejoin="round"/><path d="M123.6,768 C128,768.3 141.5,769.2 150,770 C158.5,770.8 167.4,771.9 174.8,772.9 C182.2,773.9 188.8,775 194.6,776.2 C200.4,777.4 205.7,778.5 209.4,780.3 C213.1,782.1 214.4,783.8 217,787 C219.6,790.2 222.3,794.9 224.9,799.6 C227.5,804.3 230.5,810.5 232.8,815.4 C235.1,820.3 237,824.5 238.8,829.3 C240.6,834.1 242.2,839.2 243.7,844.2 C245.2,849.2 246.5,854 247.7,859 C248.8,864 249.4,868.7 250.6,873.9 C251.8,879.1 253.3,882.6 255,890 C256.7,897.4 258.5,907 260.7,918 C262.9,929 265.8,942.6 268.3,955.9 C270.8,969.2 273.4,983.7 275.9,997.6 C278.4,1011.5 281,1027.7 283.5,1039.4 C286,1051.1 288.2,1060.5 291.1,1067.9 C294,1075.3 296.8,1082.1 300.6,1084 C304.4,1085.9 310.1,1083.2 313.9,1079.2 C317.7,1075.2 320.1,1068.8 323.3,1060.3 C326.5,1051.8 330,1039.7 332.8,1028 C335.6,1016.3 338.7,998.3 340.4,990.1 C342.1,981.9 342.1,985 343.1,979 C344.1,973 345.2,961.9 346.4,954.3 C347.6,946.7 349.3,939.8 350.5,933.6 C351.7,927.4 352.6,922.6 353.8,917.1 C355.1,911.6 356.8,905.4 358,900.6 C359.2,895.8 359.9,894.2 361.3,888.3 C362.7,882.4 364.4,873.5 366.4,865.3 C368.3,857.1 370.8,847 373,838.9 C375.2,830.8 377.4,822.6 379.6,816.5 C381.8,810.4 383.6,806.4 386.2,802 C388.8,797.6 392.1,793.4 395.4,790.1 C398.7,786.8 402,784.3 406,782.2 C410,780.1 413.9,779.1 419.2,777.6 C424.5,776.1 431.5,774.4 438,773.2 C444.5,772 451.5,771.1 458.2,770.4 C464.9,769.7 471.9,769.3 478,768.8 C484.1,768.2 491.8,767.4 494.5,767.1" fill="none" stroke="#000" stroke-width="2.2" stroke-dasharray="2 2.2"/><circle cx="169.3" cy="1065.7" r="19.2" fill="none" stroke="#000" stroke-width="2.9"/><text x="169.3" y="1076.5" text-anchor="middle" font-family="'DejaVu Sans', 'Liberation Sans', sans-serif" font-weight="700" font-size="30.5" fill="#000">1</text><rect x="578" y="711.3" width="393.4" height="396" fill="none" stroke="#000" stroke-width="1.9"/><path d="M605.5,711.3v6M605.5,1107.3v-6M690,711.3v6M690,1107.3v-6M774.6,711.3v6M774.6,1107.3v-6M859.2,711.3v6M859.2,1107.3v-6M943.8,711.3v6M943.8,1107.3v-6M578,768.3h5M971.4,768.3h-5M578,881.3h5M971.4,881.3h-5M578,994.3h5M971.4,994.3h-5M578,1107.3h5M971.4,1107.3h-5" stroke="#000" stroke-width="1.6" fill="none"/><text x="604.5" y="1142.6" text-anchor="middle" font-family="'Liberation Serif', 'Times New Roman', serif" font-size="33" fill="#1a1a1a">-6</text><text x="689" y="1142.6" text-anchor="middle" font-family="'Liberation Serif', 'Times New Roman', serif" font-size="33" fill="#1a1a1a">-3</text><text x="773.6" y="1142.6" text-anchor="middle" font-family="'Liberation Serif', 'Times New Roman', serif" font-size="33" fill="#1a1a1a">0</text><text x="858.2" y="1142.6" text-anchor="middle" font-family="'Liberation Serif', 'Times New Roman', serif" font-size="33" fill="#1a1a1a">3</text><text x="942.8" y="1142.6" text-anchor="middle" font-family="'Liberation Serif', 'Times New Roman', serif" font-size="33" fill="#1a1a1a">6</text><text x="571" y="778.7" text-anchor="end" font-family="'Liberation Serif', 'Times New Roman', serif" font-size="33" fill="#1a1a1a">0</text><text x="571" y="891.7" text-anchor="end" font-family="'Liberation Serif', 'Times New Roman', serif" font-size="33" fill="#1a1a1a">-20</text><text x="571" y="1004.7" text-anchor="end" font-family="'Liberation Serif', 'Times New Roman', serif" font-size="33" fill="#1a1a1a">-40</text><text x="571" y="1117.7" text-anchor="end" font-family="'Liberation Serif', 'Times New Roman', serif" font-size="33" fill="#1a1a1a">-60</text><path d="M584.6,761.3 C587.6,761 597.6,760.4 602.8,759.7 C608,759 611.9,758.4 616,757.2 C620.1,756 623.4,753.4 627.5,752.3 C631.6,751.2 636.3,750.5 640.7,750.6 C645.1,750.7 650.3,752.5 653.9,753.1 C657.5,753.7 659.5,754.5 662.2,754.2 C665,753.9 667.9,751.7 670.4,751.4 C672.9,751.1 674.8,751 677,752.3 C679.2,753.5 680.9,754.3 683.6,758.9 C686.3,763.5 690,771.5 693,780 C696,788.5 698.7,799.8 701.9,809.7 C705.1,819.6 708.8,830 712.3,839.4 C715.8,848.8 719.5,857.5 722.7,866.2 C725.9,874.9 728.6,883.5 731.6,891.4 C734.6,899.3 737.3,907 740.5,913.7 C743.7,920.4 746.9,926.4 750.9,931.6 C754.9,936.8 759.6,941.8 764.3,944.9 C769,948 775.2,949.5 779.2,950.1 C783.2,950.7 785,950.1 788.1,948.6 C791.2,947.1 795.1,943.9 797.7,941.4 C800.3,938.9 802,936.4 803.7,933.5 C805.4,930.6 806.5,927.4 808,924 C809.5,920.6 811.1,916.5 812.5,913 C813.9,909.5 815.3,906.3 816.5,903 C817.7,899.7 818.5,896.5 819.5,893 C820.5,889.5 821.6,885.5 822.5,882 C823.4,878.5 823.8,878 825.1,871.9 C826.4,865.8 828.5,853.9 830.3,845.5 C832,837.1 833.6,829.5 835.6,821.8 C837.6,814.1 840,806.4 842.2,799.4 C844.4,792.4 846.6,785.8 848.8,779.6 C851,773.4 853,767.7 855.4,762.4 C857.8,757.1 860.2,751 863.3,747.9 C866.4,744.8 870.1,744.2 873.9,744 C877.6,743.8 881.8,745.1 885.8,746.6 C889.8,748.1 895.3,751.7 897.6,753.2 C899.9,754.7 897.2,754.2 899.7,755.6 C902.2,757 908.2,759.6 912.9,761.3 C917.6,762.9 922.8,764.4 927.8,765.5 C932.8,766.6 937.9,766.8 942.6,767.9 C947.3,769 953.6,771.4 955.8,772.1" fill="none" stroke="#0000ff" stroke-width="6" stroke-linejoin="round"/><path d="M584.6,767.1 C587.6,766.8 596.8,766 602.8,765.5 C608.8,765 615.4,764.2 620.9,763.8 C626.4,763.4 631.9,762.5 635.8,763 C639.6,763.5 641.2,765 644,767.1 C646.8,769.2 649.5,773.1 652.3,775.4 C655,777.7 657.2,780 660.5,781.1 C663.8,782.2 668.8,781 672.1,782 C675.4,783 677.3,783.8 680.3,786.9 C683.3,790 687.1,794.5 690,800.8 C692.9,807.1 694.9,816.9 697.4,824.6 C699.9,832.3 702.2,841 704.9,846.9 C707.6,852.8 711,856 713.8,860.2 C716.6,864.4 719.7,866.9 721.9,872.1 C724.1,877.3 725.5,884.5 727.1,891.4 C728.7,898.3 730.1,906.3 731.6,913.7 C733.1,921.1 734.9,928.6 736.1,936 C737.3,943.4 737.5,943.9 739,958.3 C740.5,972.7 743.4,1007.8 745.4,1022.3 C747.4,1036.8 748.9,1040 751.1,1045.1 C753.3,1050.2 755.9,1051.8 758.7,1052.7 C761.6,1053.7 765.4,1050.7 768.2,1050.8 C771,1050.9 773.2,1052 775.7,1053.6 C778.2,1055.2 780.8,1059.5 783.3,1060.3 C785.8,1061.1 788.7,1061.6 790.9,1058.4 C793.1,1055.2 794.7,1049.5 796.6,1041.3 C798.5,1033.1 800.8,1019.4 802.3,1009 C803.8,998.6 804.5,987.3 805.6,979 C806.7,970.7 807.8,965.8 808.6,959.2 C809.4,952.6 809.9,946 810.6,939.4 C811.3,932.8 811.8,926.2 812.6,919.6 C813.4,913 814.4,906.4 815.5,899.8 C816.6,893.2 817.2,886.2 819.5,880 C821.8,873.8 826.1,868 829,862.7 C831.9,857.4 834.5,853.3 836.9,848.2 C839.3,843.1 841.3,837.6 843.5,832.3 C845.7,827 847.9,821.8 850.1,816.5 C852.3,811.2 854.3,805.3 856.7,800.7 C859.1,796.1 861.7,791.9 864.6,788.8 C867.5,785.7 870.4,784.4 873.9,782.2 C877.4,780 881.8,777.8 885.8,775.6 C889.8,773.4 893.6,770.4 897.6,769 C901.6,767.6 904.6,767.1 909.6,767.1 C914.6,767.1 922.3,768.4 927.8,768.8 C933.3,769.2 937.9,769.3 942.6,769.6 C947.3,769.9 953.6,770.3 955.8,770.4" fill="none" stroke="#ff0000" stroke-width="6.5" stroke-linejoin="round"/><path d="M584.6,767.1 C589,767.4 601.9,768 611,768.8 C620.1,769.6 630.8,770.9 639,772.1 C647.2,773.3 654.2,774.8 660.5,776.2 C666.8,777.6 672.6,778.2 677,780.3 C681.4,782.4 684.5,786.2 686.9,788.6 C689.3,791 689,790.1 691.5,794.9 C694,799.6 698.7,808.4 701.9,817.1 C705.1,825.8 708.3,837 710.8,846.9 C713.3,856.8 715,867.9 716.7,876.6 C718.4,885.3 719.7,891.5 721.2,898.9 C722.7,906.3 724,912.5 725.7,921.2 C727.4,929.9 729.9,942 731.6,950.9 C733.3,959.8 733.9,963.9 735.9,974.9 C737.9,985.9 740.6,1004.6 743.5,1016.6 C746.4,1028.6 749.8,1039.7 753,1047 C756.2,1054.3 760,1057.1 762.5,1060.3 C765,1063.5 765.7,1066 768.2,1066 C770.7,1066 774.5,1064.4 777.6,1060.3 C780.8,1056.2 783.9,1049.8 787.1,1041.3 C790.3,1032.8 794,1021 796.6,1009 C799.2,997 800.9,979.9 802.7,969.1 C804.5,958.3 806,953 807.6,944.4 C809.2,935.8 811,925.9 812.6,917.6 C814.2,909.4 816,901.2 817.5,894.9 C819,888.6 820.2,884.9 821.5,880 C822.8,875.1 823.4,872.1 825.1,865.3 C826.8,858.4 829.5,847 831.7,838.9 C833.9,830.8 836.1,823.3 838.3,816.5 C840.5,809.7 842.5,802.6 844.9,798 C847.3,793.4 849.7,791.6 852.8,788.8 C855.9,785.9 859.3,782.9 863.3,780.9 C867.2,778.9 871.7,778.1 876.5,776.9 C881.3,775.7 886.5,774.8 892.3,773.6 C898.1,772.4 904,770.7 911.3,769.6 C918.6,768.5 928.6,767.8 936,767.1 C943.4,766.4 952.5,765.8 955.8,765.5" fill="none" stroke="#000" stroke-width="2.2" stroke-dasharray="2 2.2"/><circle cx="629.7" cy="1066.1" r="19.2" fill="none" stroke="#000" stroke-width="2.9"/><text x="629.7" y="1076.9" text-anchor="middle" font-family="'DejaVu Sans', 'Liberation Sans', sans-serif" font-weight="700" font-size="30.5" fill="#000">2</text><rect x="1036.8" y="711.3" width="395.6" height="396" fill="none" stroke="#000" stroke-width="1.9"/><path d="M1066.5,711.3v6M1066.5,1107.3v-6M1151.2,711.3v6M1151.2,1107.3v-6M1235.8,711.3v6M1235.8,1107.3v-6M1320.3,711.3v6M1320.3,1107.3v-6M1405,711.3v6M1405,1107.3v-6M1036.8,768.3h5M1432.4,768.3h-5M1036.8,881.3h5M1432.4,881.3h-5M1036.8,994.3h5M1432.4,994.3h-5M1036.8,1107.3h5M1432.4,1107.3h-5" stroke="#000" stroke-width="1.6" fill="none"/><text x="1065.5" y="1142.6" text-anchor="middle" font-family="'Liberation Serif', 'Times New Roman', serif" font-size="33" fill="#1a1a1a">-6</text><text x="1150.2" y="1142.6" text-anchor="middle" font-family="'Liberation Serif', 'Times New Roman', serif" font-size="33" fill="#1a1a1a">-3</text><text x="1234.8" y="1142.6" text-anchor="middle" font-family="'Liberation Serif', 'Times New Roman', serif" font-size="33" fill="#1a1a1a">0</text><text x="1319.3" y="1142.6" text-anchor="middle" font-family="'Liberation Serif', 'Times New Roman', serif" font-size="33" fill="#1a1a1a">3</text><text x="1404" y="1142.6" text-anchor="middle" font-family="'Liberation Serif', 'Times New Roman', serif" font-size="33" fill="#1a1a1a">6</text><text x="1029.8" y="778.7" text-anchor="end" font-family="'Liberation Serif', 'Times New Roman', serif" font-size="33" fill="#1a1a1a">0</text><text x="1029.8" y="891.7" text-anchor="end" font-family="'Liberation Serif', 'Times New Roman', serif" font-size="33" fill="#1a1a1a">-20</text><text x="1029.8" y="1004.7" text-anchor="end" font-family="'Liberation Serif', 'Times New Roman', serif" font-size="33" fill="#1a1a1a">-40</text><text x="1029.8" y="1117.7" text-anchor="end" font-family="'Liberation Serif', 'Times New Roman', serif" font-size="33" fill="#1a1a1a">-60</text><path d="M1043.6,765.5 C1045.8,765.9 1052.4,766.9 1056.8,767.9 C1061.2,768.9 1065.6,771.1 1070,771.2 C1074.4,771.4 1078.8,770.3 1083.2,768.8 C1087.6,767.3 1092,764 1096.4,762.2 C1100.8,760.4 1105.8,759.1 1109.6,758 C1113.4,756.9 1116.5,756.7 1119.5,755.6 C1122.5,754.5 1125,752.5 1127.8,751.4 C1130.5,750.3 1133.2,748.5 1136,749 C1138.8,749.5 1141.8,751.7 1144.3,754.7 C1146.8,757.7 1148,759.6 1150.9,767.1 C1153.8,774.6 1158.6,790.8 1161.9,800 C1165.2,809.2 1167.8,814.9 1170.8,822.3 C1173.8,829.7 1177,837.2 1179.7,844.6 C1182.4,852 1184.9,859.5 1187.1,866.9 C1189.3,874.3 1191.1,881.8 1193.1,889.2 C1195.1,896.6 1197,904.5 1199,911.4 C1201,918.3 1202.7,924.9 1205,930.8 C1207.3,936.7 1209.4,943 1212.7,947 C1216,951 1220.8,953.1 1224.6,954.9 C1228.4,956.7 1232,957.1 1235.4,957.8 C1238.9,958.4 1242.5,959.3 1245.3,958.8 C1248.1,958.3 1250,957.2 1252.3,954.9 C1254.6,952.6 1257.4,947.5 1259.2,945 C1261,942.5 1261.1,944.5 1263.2,940 C1265.3,935.5 1269.4,925 1271.8,918 C1274.2,911 1275.5,906 1277.5,898.3 C1279.5,890.6 1281.4,880.7 1283.5,871.9 C1285.6,863.1 1287.9,853.9 1290.1,845.5 C1292.3,837.1 1294.3,829.5 1296.7,821.8 C1299.1,814.1 1302,806.4 1304.6,799.4 C1307.2,792.4 1309.9,785.1 1312.5,779.6 C1315.1,774.1 1317.6,769.9 1320.4,766.4 C1323.2,762.9 1326.1,760.1 1329.6,758.5 C1333.1,756.9 1337.3,756.3 1341.5,756.5 C1345.7,756.7 1351,758.6 1354.7,759.8 C1358.5,761 1359.7,762.6 1364,763.7 C1368.3,764.8 1375,765.9 1380.5,766.3 C1386,766.7 1391.2,766.3 1397,766.3 C1402.8,766.3 1412.2,766.3 1415.2,766.3" fill="none" stroke="#0000ff" stroke-width="6" stroke-linejoin="round"/><path d="M1043.6,761.3 C1046.6,761.2 1056,760.8 1061.8,760.5 C1067.6,760.2 1073.3,759.8 1078.3,759.7 C1083.2,759.6 1087.4,759 1091.5,759.7 C1095.6,760.4 1099.4,761.6 1103,763.8 C1106.6,766 1109.6,770.3 1112.9,772.9 C1116.2,775.5 1119.5,778 1122.8,779.5 C1126.1,781 1130,780.5 1132.7,782 C1135.5,783.5 1137.1,785 1139.3,788.6 C1141.5,792.2 1142.9,796.5 1145.9,803.4 C1148.9,810.2 1154.2,820.9 1157.4,829.7 C1160.6,838.6 1162.2,849.1 1164.9,856.5 C1167.6,863.9 1171.3,869.3 1173.8,874.3 C1176.3,879.2 1178,881.2 1179.7,886.2 C1181.4,891.2 1182.7,897.3 1184.2,904 C1185.7,910.7 1186.6,915.3 1188.6,926.3 C1190.6,937.2 1194.4,958.3 1196.3,969.7 C1198.2,981.1 1198.4,986.2 1199.8,994.5 C1201.2,1002.8 1203.1,1012 1204.8,1019.2 C1206.5,1026.5 1207.7,1034.4 1209.7,1038 C1211.7,1041.6 1214.4,1041 1216.6,1041 C1218.8,1041 1220.3,1039.3 1222.6,1038 C1224.9,1036.7 1227.7,1033.6 1230.5,1033.1 C1233.3,1032.6 1236.3,1034.2 1239.4,1035 C1242.5,1035.8 1246.7,1039 1249.3,1038 C1251.9,1037 1253.2,1033 1255.2,1029.1 C1257.2,1025.1 1259.2,1020.1 1261.2,1014.3 C1263.2,1008.5 1265.1,1001.9 1267.1,994.5 C1269.1,987.1 1271.4,978 1273.1,969.7 C1274.8,961.5 1275.5,956.9 1277.5,945 C1279.5,933.1 1282.9,910.5 1284.8,898.3 C1286.7,886.1 1287.2,880 1288.7,871.9 C1290.2,863.8 1292,856.1 1294,849.5 C1296,842.9 1298.2,835.6 1300.6,832.3 C1303,829 1305.6,830.4 1308.5,829.7 C1311.4,829.1 1315.1,829.7 1317.8,828.4 C1320.5,827.1 1322.2,825.1 1324.4,821.8 C1326.6,818.5 1328.6,813.4 1331,808.6 C1333.4,803.8 1336.3,796.8 1338.9,792.8 C1341.5,788.8 1344,786 1346.8,784.9 C1349.6,783.8 1353.1,785.9 1356,786.2 C1358.9,786.5 1361,787.5 1364,786.8 C1367,786.1 1370.3,783.9 1373.9,782 C1377.5,780.1 1381.7,776.9 1385.5,775.4 C1389.3,773.9 1392,773.2 1397,772.9 C1402,772.6 1412.2,773.6 1415.2,773.7" fill="none" stroke="#ff0000" stroke-width="6.5" stroke-linejoin="round"/><path d="M1043.6,766.3 C1048,766.7 1061.5,767.8 1070,768.8 C1078.5,769.8 1087.1,771 1094.8,772.1 C1102.5,773.2 1109.3,774.3 1116.2,775.4 C1123.1,776.5 1130.5,776.5 1136,778.7 C1141.5,780.9 1145.1,785.1 1149.2,788.6 C1153.3,792.1 1156.8,793.1 1160.4,800 C1164,806.9 1167.8,819.8 1170.8,829.7 C1173.8,839.6 1176,849.5 1178.2,859.4 C1180.4,869.3 1182.2,879.3 1184.2,889.2 C1186.2,899.1 1188.3,910.4 1190.1,918.9 C1191.9,927.4 1193.3,932.4 1194.9,940 C1196.5,947.6 1198.2,956.9 1199.8,964.8 C1201.4,972.7 1203.1,980.1 1204.8,987.5 C1206.5,994.9 1207.9,1002.4 1209.7,1009.3 C1211.5,1016.2 1213.6,1023.5 1215.6,1029.1 C1217.6,1034.7 1219.3,1039.4 1221.6,1043 C1223.9,1046.6 1227.2,1049.6 1229.5,1050.9 C1231.8,1052.2 1233.2,1052.7 1235.4,1050.9 C1237.6,1049.1 1240.1,1044.3 1242.4,1040 C1244.7,1035.7 1247.2,1030.2 1249.3,1025.1 C1251.4,1020 1253.4,1015.2 1255.2,1009.3 C1257,1003.4 1258.7,996.1 1260.2,989.5 C1261.7,982.9 1262.7,977.1 1264.2,969.7 C1265.7,962.3 1266.5,958 1269.1,945 C1271.6,932 1276.7,905 1279.5,891.7 C1282.3,878.4 1283.9,874.1 1286.1,865.3 C1288.3,856.5 1290.3,847.5 1292.7,838.9 C1295.1,830.3 1298,820.9 1300.6,813.9 C1303.2,806.9 1305.6,801.5 1308.5,796.7 C1311.4,791.9 1314.5,788 1317.8,784.9 C1321.1,781.8 1323.9,779.8 1328.3,778.3 C1332.7,776.8 1338.5,776.5 1344.2,775.6 C1349.9,774.7 1356.5,773.9 1362.6,773 C1368.6,772.1 1374.8,771.1 1380.5,770.4 C1386.2,769.7 1391.2,769.2 1397,768.8 C1402.8,768.4 1412.2,768 1415.2,767.9" fill="none" stroke="#000" stroke-width="2.2" stroke-dasharray="2 2.2"/><circle cx="1090.9" cy="1067" r="19.2" fill="none" stroke="#000" stroke-width="2.9"/><text x="1090.9" y="1077.8" text-anchor="middle" font-family="'DejaVu Sans', 'Liberation Sans', sans-serif" font-weight="700" font-size="30.5" fill="#000">3</text><path d="M350.3,1021.3H384" stroke="#ff0000" stroke-width="5.6"/><path d="M350.3,1053.4H384" stroke="#0000ff" stroke-width="5.6"/><rect x="350.3" y="1081" width="6.5" height="6.5" fill="#000"/><rect x="361.3" y="1081" width="6.5" height="6.5" fill="#000"/><rect x="373.3" y="1081" width="6.5" height="6.5" fill="#000"/><text x="390" y="1027.4" font-family="'Liberation Serif', 'Times New Roman', serif" font-size="24" fill="#1a1a1a" textLength="120" lengthAdjust="spacingAndGlyphs">with diffuser</text><text x="390" y="1059.2" font-family="'Liberation Serif', 'Times New Roman', serif" font-size="24" fill="#1a1a1a" textLength="116" lengthAdjust="spacingAndGlyphs">w/o diffuser</text><text x="390" y="1090.6" font-family="'Liberation Serif', 'Times New Roman', serif" font-size="24" fill="#1a1a1a">Ref.</text><text transform="translate(31.3,1021.7) rotate(-90)" font-family="'Liberation Serif', 'Times New Roman', serif" font-size="37.5" fill="#1a1a1a" textLength="195" lengthAdjust="spacingAndGlyphs">Height (<tspan font-style="italic">n</tspan>m)</text><text x="659.5" y="1200.5" font-family="'Liberation Serif', 'Times New Roman', serif" font-size="38" fill="#1a1a1a" textLength="224" lengthAdjust="spacingAndGlyphs">Distance (<tspan font-style="italic">μ</tspan>m)</text><rect x="1632.2" y="709.3" width="24.6" height="340.2" fill="#ff0000" stroke="#000" stroke-width="1.6"/><rect x="1662.7" y="709.3" width="23" height="225.1" fill="#0000ff" stroke="#000" stroke-width="1.6"/><rect x="1691.6" y="709.3" width="24.6" height="324.4" fill="#808080" stroke="#000" stroke-width="1.6"/><rect x="1764.4" y="709.3" width="24.6" height="301.3" fill="#ff0000" stroke="#000" stroke-width="1.6"/><rect x="1794.9" y="709.3" width="23" height="205.4" fill="#0000ff" stroke="#000" stroke-width="1.6"/><rect x="1823.8" y="709.3" width="24.6" height="305.2" fill="#808080" stroke="#000" stroke-width="1.6"/><rect x="1896.1" y="709.3" width="24.6" height="286.6" fill="#ff0000" stroke="#000" stroke-width="1.6"/><rect x="1926.6" y="709.3" width="23" height="206.5" fill="#0000ff" stroke="#000" stroke-width="1.6"/><rect x="1955.5" y="709.3" width="24.6" height="288.3" fill="#808080" stroke="#000" stroke-width="1.6"/><rect x="1609.3" y="709.3" width="393.9" height="392.9" fill="none" stroke="#000" stroke-width="1.9"/><path d="M1609.3,709.3h5M2003.2,709.3h-5M1609.3,822.1h5M2003.2,822.1h-5M1609.3,935h5M2003.2,935h-5M1609.3,1047.8h5M2003.2,1047.8h-5M1674.2,1102.2v-6M1674.2,709.3v6M1806.4,1102.2v-6M1806.4,709.3v6M1938.1,1102.2v-6M1938.1,709.3v6" stroke="#000" stroke-width="1.6" fill="none"/><text x="1599.3" y="720.8" text-anchor="end" font-family="'Liberation Serif', 'Times New Roman', serif" font-size="33" fill="#1a1a1a">0</text><text x="1599.3" y="833.6" text-anchor="end" font-family="'Liberation Serif', 'Times New Roman', serif" font-size="33" fill="#1a1a1a">-20</text><text x="1599.3" y="946.5" text-anchor="end" font-family="'Liberation Serif', 'Times New Roman', serif" font-size="33" fill="#1a1a1a">-40</text><text x="1599.3" y="1059.3" text-anchor="end" font-family="'Liberation Serif', 'Times New Roman', serif" font-size="33" fill="#1a1a1a">-60</text><circle cx="1672.5" cy="1133" r="13.3" fill="none" stroke="#000" stroke-width="1.5"/><text x="1672.5" y="1140.4" text-anchor="middle" font-family="'DejaVu Sans', 'Liberation Sans', sans-serif" font-weight="700" font-size="20.5" fill="#000">1</text><circle cx="1804.7" cy="1134.7" r="13.3" fill="none" stroke="#000" stroke-width="1.5"/><text x="1804.7" y="1142.1" text-anchor="middle" font-family="'DejaVu Sans', 'Liberation Sans', sans-serif" font-weight="700" font-size="20.5" fill="#000">2</text><circle cx="1934.8" cy="1134.7" r="13.3" fill="none" stroke="#000" stroke-width="1.5"/><text x="1934.8" y="1142.1" text-anchor="middle" font-family="'DejaVu Sans', 'Liberation Sans', sans-serif" font-weight="700" font-size="20.5" fill="#000">3</text><path d="M1837.3,1053.1H1870.5" stroke="#ff0000" stroke-width="5.5"/><path d="M1837.3,1084.6H1870.5" stroke="#0000ff" stroke-width="5.5"/><path d="M1743,1084.6H1774.7" stroke="#000" stroke-width="5.5"/><text x="1876.8" y="1059.4" font-family="'Liberation Serif', 'Times New Roman', serif" font-size="24" fill="#1a1a1a" textLength="121" lengthAdjust="spacingAndGlyphs">with diffuser</text><text x="1876.8" y="1090.3" font-family="'Liberation Serif', 'Times New Roman', serif" font-size="24" fill="#1a1a1a" textLength="116" lengthAdjust="spacingAndGlyphs">w/o diffuser</text><text x="1781.3" y="1090.3" font-family="'Liberation Serif', 'Times New Roman', serif" font-size="24" fill="#1a1a1a">Ref.</text><text transform="translate(1521.3,1018.8) rotate(-90)" font-family="'Liberation Serif', 'Times New Roman', serif" font-size="37.5" fill="#1a1a1a" textLength="196" lengthAdjust="spacingAndGlyphs">Height (<tspan font-style="italic">n</tspan>m)</text><text x="1739.6" y="1200.8" font-family="'Liberation Serif', 'Times New Roman', serif" font-size="38" fill="#1a1a1a" textLength="132.5" lengthAdjust="spacingAndGlyphs">Position</text><text x="63.5" y="78" font-family="'Liberation Serif', 'Times New Roman', serif" font-weight="700" font-size="78">a</text><text x="633.5" y="77.5" font-family="'Liberation Serif', 'Times New Roman', serif" font-weight="700" font-size="78">b</text><text x="1267" y="77.5" font-family="'Liberation Serif', 'Times New Roman', serif" font-weight="700" font-size="78">c</text><text x="44.5" y="705" font-family="'Liberation Serif', 'Times New Roman', serif" font-weight="700" font-size="78">d</text><text x="1492.5" y="705.5" font-family="'Liberation Serif', 'Times New Roman', serif" font-weight="700" font-size="78">e</text></svg></body></html>
